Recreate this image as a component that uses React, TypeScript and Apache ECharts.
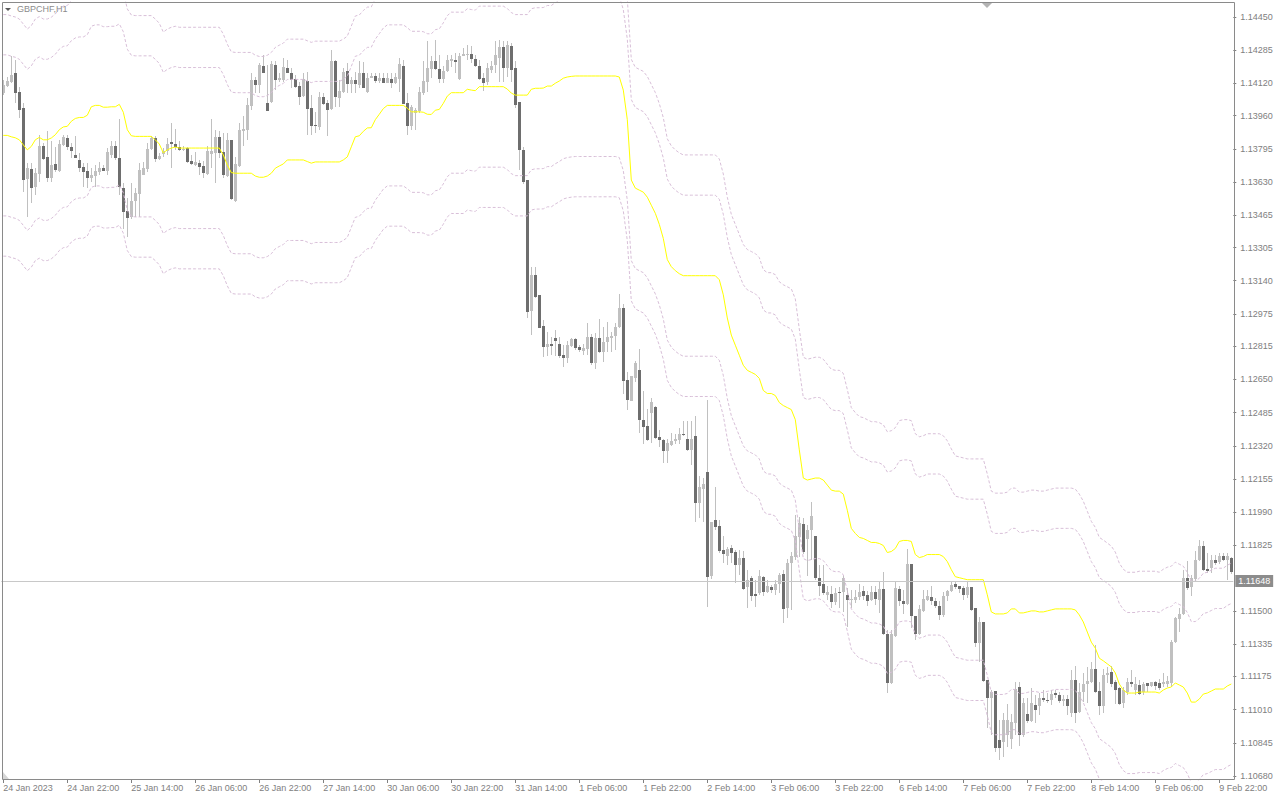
import React, { useEffect, useRef } from 'react';
import * as echarts from 'echarts';

const SYMBOL = 'GBPCHF,H1';
const X_LABELS = ['24 Jan 2023', '24 Jan 22:00', '25 Jan 14:00', '26 Jan 06:00', '26 Jan 22:00', '27 Jan 14:00', '30 Jan 06:00', '30 Jan 22:00', '31 Jan 14:00', '1 Feb 06:00', '1 Feb 22:00', '2 Feb 14:00', '3 Feb 06:00', '3 Feb 22:00', '6 Feb 14:00', '7 Feb 06:00', '7 Feb 22:00', '8 Feb 14:00', '9 Feb 06:00', '9 Feb 22:00'];
const LABEL_STEP = 16;
const Y_TICK_LABELS = ['1.10680', '1.10845', '1.11010', '1.11175', '1.11335', '1.11500', '1.11825', '1.11990', '1.12155', '1.12320', '1.12485', '1.12650', '1.12815', '1.12975', '1.13140', '1.13305', '1.13465', '1.13630', '1.13795', '1.13960', '1.14120', '1.14285', '1.14450'];
const Y_MIN = 1.106601;
const Y_MAX = 1.145245;
const BID = 1.11648;
const BAND_OFFSETS = [0.004, 0.006];

const OPEN = [
  1.14074, 1.14109, 1.14129, 1.14171, 1.14079, 1.13996, 1.13644, 1.13695, 1.13607, 1.13670,
  1.13810, 1.13755, 1.13652, 1.13720, 1.13687, 1.13815, 1.13850, 1.13802, 1.13765, 1.13740,
  1.13707, 1.13685, 1.13652, 1.13660, 1.13682, 1.13702, 1.13687, 1.13765, 1.13807, 1.13749,
  1.13602, 1.13485, 1.13457, 1.13535, 1.13569, 1.13665, 1.13694, 1.13794, 1.13850, 1.13744,
  1.13769, 1.13785, 1.13827, 1.13820, 1.13802, 1.13787, 1.13799, 1.13735, 1.13715, 1.13725,
  1.13710, 1.13670, 1.13770, 1.13774, 1.13854, 1.13777, 1.13660, 1.13840, 1.13535, 1.13710,
  1.13882, 1.13887, 1.14009, 1.14137, 1.14112, 1.14209, 1.14024, 1.14029, 1.14212, 1.14137,
  1.14137, 1.14196, 1.14174, 1.14141, 1.14107, 1.14057, 1.14134, 1.13996, 1.13914, 1.13902,
  1.14054, 1.14024, 1.13992, 1.14229, 1.14049, 1.14079, 1.14182, 1.14116, 1.14137, 1.14112,
  1.14174, 1.14079, 1.14149, 1.14157, 1.14134, 1.14146, 1.14124, 1.14142, 1.14121, 1.14142,
  1.14207, 1.14024, 1.13909, 1.13971, 1.13982, 1.14071, 1.14129, 1.14192, 1.14232, 1.14191,
  1.14142, 1.14182, 1.14229, 1.14237, 1.14141, 1.14257, 1.14262, 1.14267, 1.14242, 1.14207,
  1.14149, 1.14126, 1.14187, 1.14212, 1.14246, 1.14299, 1.14199, 1.14307, 1.14199, 1.14029,
  1.13790, 1.13640, 1.12992, 1.13170, 1.13067, 1.12917, 1.12809, 1.12825, 1.12854, 1.12825,
  1.12770, 1.12757, 1.12817, 1.12849, 1.12809, 1.12792, 1.12800, 1.12859, 1.12732, 1.12854,
  1.12787, 1.12834, 1.12854, 1.12865, 1.12909, 1.13004, 1.12645, 1.12542, 1.12657, 1.12695,
  1.12447, 1.12417, 1.12484, 1.12515, 1.12365, 1.12350, 1.12292, 1.12325, 1.12345, 1.12350,
  1.12380, 1.12355, 1.12300, 1.12367, 1.12037, 1.12105, 1.12190, 1.11672, 1.11954, 1.11922,
  1.11805, 1.11775, 1.11812, 1.11792, 1.11730, 1.11764, 1.11617, 1.11662, 1.11585, 1.11589,
  1.11670, 1.11592, 1.11617, 1.11605, 1.11634, 1.11685, 1.11512, 1.11739, 1.11767, 1.11867,
  1.11934, 1.11859, 1.11900, 1.11870, 1.11664, 1.11635, 1.11580, 1.11585, 1.11545, 1.11592,
  1.11592, 1.11580, 1.11552, 1.11552, 1.11567, 1.11597, 1.11580, 1.11555, 1.11594, 1.11552,
  1.11610, 1.11384, 1.11141, 1.11377, 1.11610, 1.11547, 1.11534, 1.11735, 1.11475, 1.11385,
  1.11502, 1.11555, 1.11569, 1.11549, 1.11525, 1.11480, 1.11572, 1.11600, 1.11635, 1.11622,
  1.11614, 1.11577, 1.11617, 1.11515, 1.11342, 1.11447, 1.11157, 1.11069, 1.11102, 1.10859,
  1.10850, 1.10884, 1.10864, 1.10945, 1.11122, 1.10884, 1.10987, 1.10952, 1.11032, 1.11029,
  1.11069, 1.11057, 1.11057, 1.11094, 1.11082, 1.11052, 1.11062, 1.10994, 1.11157, 1.10999,
  1.11099, 1.11137, 1.11149, 1.11212, 1.11102, 1.11029, 1.11182, 1.11199, 1.11146, 1.11116,
  1.11041, 1.11096, 1.11149, 1.11107, 1.11132, 1.11096, 1.11141, 1.11129, 1.11149, 1.11141,
  1.11136, 1.11136, 1.11141, 1.11347, 1.11459, 1.11485, 1.11664, 1.11617, 1.11660, 1.11752,
  1.11820, 1.11710, 1.11714, 1.11752, 1.11742, 1.11775, 1.11752, 1.11764,
];

const HIGH = [
  1.14137, 1.14154, 1.14254, 1.14237, 1.14104, 1.14021, 1.13724, 1.13724, 1.13699, 1.13865,
  1.13824, 1.13882, 1.13832, 1.13804, 1.13840, 1.13865, 1.13865, 1.13824, 1.13860, 1.13774,
  1.13724, 1.13724, 1.13699, 1.13715, 1.13732, 1.13715, 1.13799, 1.13832, 1.13832, 1.13942,
  1.13624, 1.13549, 1.13624, 1.13599, 1.13724, 1.13732, 1.13824, 1.13857, 1.13857, 1.13774,
  1.13799, 1.13849, 1.13924, 1.13894, 1.13832, 1.13807, 1.13804, 1.13765, 1.13777, 1.13740,
  1.13737, 1.13807, 1.13941, 1.13887, 1.13885, 1.13874, 1.13874, 1.13840, 1.13757, 1.13924,
  1.13957, 1.14049, 1.14171, 1.14154, 1.14221, 1.14262, 1.14212, 1.14229, 1.14229, 1.14171,
  1.14246, 1.14237, 1.14196, 1.14162, 1.14129, 1.14171, 1.14179, 1.14062, 1.13979, 1.14079,
  1.14071, 1.14037, 1.14287, 1.14237, 1.14137, 1.14196, 1.14221, 1.14154, 1.14179, 1.14229,
  1.14224, 1.14171, 1.14174, 1.14171, 1.14174, 1.14174, 1.14174, 1.14171, 1.14174, 1.14246,
  1.14237, 1.14071, 1.14012, 1.13996, 1.14104, 1.14229, 1.14329, 1.14254, 1.14337, 1.14262,
  1.14207, 1.14262, 1.14262, 1.14271, 1.14271, 1.14296, 1.14312, 1.14304, 1.14262, 1.14237,
  1.14171, 1.14221, 1.14229, 1.14329, 1.14337, 1.14329, 1.14329, 1.14321, 1.14232, 1.14029,
  1.13804, 1.13640, 1.13209, 1.13209, 1.13070, 1.12945, 1.12887, 1.12862, 1.12895, 1.12862,
  1.12820, 1.12840, 1.12854, 1.12854, 1.12820, 1.12825, 1.12929, 1.12875, 1.12879, 1.12949,
  1.12912, 1.12937, 1.12887, 1.12929, 1.13075, 1.13025, 1.12687, 1.12665, 1.12742, 1.12800,
  1.12590, 1.12505, 1.12557, 1.12517, 1.12400, 1.12354, 1.12354, 1.12384, 1.12380, 1.12409,
  1.12442, 1.12442, 1.12445, 1.12467, 1.12170, 1.12159, 1.12550, 1.11940, 1.12115, 1.11950,
  1.11870, 1.11817, 1.11825, 1.11805, 1.11805, 1.11797, 1.11705, 1.11672, 1.11655, 1.11705,
  1.11672, 1.11655, 1.11630, 1.11655, 1.11689, 1.11705, 1.11759, 1.11792, 1.11975, 1.11967,
  1.11959, 1.11925, 1.12042, 1.11870, 1.11730, 1.11730, 1.11622, 1.11622, 1.11614, 1.11619,
  1.11672, 1.11614, 1.11605, 1.11605, 1.11635, 1.11622, 1.11597, 1.11625, 1.11622, 1.11647,
  1.11692, 1.11405, 1.11405, 1.11647, 1.11622, 1.11605, 1.11809, 1.11735, 1.11475, 1.11530,
  1.11605, 1.11605, 1.11625, 1.11564, 1.11547, 1.11592, 1.11605, 1.11647, 1.11642, 1.11625,
  1.11622, 1.11647, 1.11617, 1.11515, 1.11469, 1.11447, 1.11157, 1.11107, 1.11102, 1.10959,
  1.10994, 1.11036, 1.10986, 1.11149, 1.11147, 1.11066, 1.11066, 1.11116, 1.11082, 1.11091,
  1.11107, 1.11091, 1.11107, 1.11107, 1.11099, 1.11082, 1.11082, 1.11207, 1.11227, 1.11144,
  1.11191, 1.11221, 1.11244, 1.11330, 1.11149, 1.11211, 1.11221, 1.11224, 1.11157, 1.11124,
  1.11124, 1.11166, 1.11204, 1.11171, 1.11157, 1.11149, 1.11144, 1.11149, 1.11154, 1.11161,
  1.11191, 1.11177, 1.11355, 1.11472, 1.11514, 1.11705, 1.11747, 1.11680, 1.11797, 1.11854,
  1.11847, 1.11789, 1.11780, 1.11780, 1.11789, 1.11789, 1.11789, 1.11769,
];

const LOW = [
  1.14062, 1.14104, 1.14121, 1.14021, 1.13946, 1.13582, 1.13457, 1.13524, 1.13565, 1.13632,
  1.13740, 1.13632, 1.13632, 1.13682, 1.13682, 1.13807, 1.13790, 1.13749, 1.13749, 1.13682,
  1.13607, 1.13602, 1.13632, 1.13607, 1.13665, 1.13685, 1.13665, 1.13749, 1.13740, 1.13565,
  1.13399, 1.13357, 1.13449, 1.13457, 1.13457, 1.13665, 1.13682, 1.13790, 1.13732, 1.13740,
  1.13757, 1.13765, 1.13699, 1.13790, 1.13782, 1.13782, 1.13727, 1.13715, 1.13710, 1.13665,
  1.13649, 1.13665, 1.13699, 1.13624, 1.13749, 1.13649, 1.13654, 1.13540, 1.13532, 1.13707,
  1.13807, 1.13840, 1.13987, 1.14071, 1.14071, 1.14171, 1.13982, 1.14024, 1.14087, 1.14129,
  1.14129, 1.14171, 1.14096, 1.14096, 1.14012, 1.14054, 1.13865, 1.13865, 1.13874, 1.13890,
  1.14012, 1.13857, 1.13987, 1.14004, 1.14004, 1.14071, 1.14071, 1.14071, 1.14071, 1.14096,
  1.14096, 1.14071, 1.14146, 1.14121, 1.14121, 1.14121, 1.14121, 1.14096, 1.14117, 1.14079,
  1.14017, 1.13865, 1.13890, 1.13890, 1.13971, 1.14062, 1.14079, 1.14146, 1.14187, 1.14121,
  1.14121, 1.14179, 1.14204, 1.14171, 1.14137, 1.14254, 1.14237, 1.14221, 1.14204, 1.14137,
  1.14084, 1.14112, 1.14171, 1.14171, 1.14129, 1.14129, 1.14154, 1.14129, 1.13996, 1.13690,
  1.13620, 1.12954, 1.12870, 1.13054, 1.12904, 1.12762, 1.12765, 1.12770, 1.12765, 1.12754,
  1.12712, 1.12732, 1.12812, 1.12795, 1.12787, 1.12770, 1.12770, 1.12720, 1.12704, 1.12782,
  1.12737, 1.12787, 1.12787, 1.12795, 1.12904, 1.12579, 1.12500, 1.12542, 1.12637, 1.12384,
  1.12329, 1.12342, 1.12334, 1.12354, 1.12312, 1.12234, 1.12237, 1.12317, 1.12329, 1.12330,
  1.12367, 1.12292, 1.12225, 1.11942, 1.11959, 1.11942, 1.11517, 1.11659, 1.11900, 1.11789,
  1.11739, 1.11730, 1.11739, 1.11639, 1.11680, 1.11605, 1.11514, 1.11547, 1.11519, 1.11580,
  1.11572, 1.11589, 1.11589, 1.11580, 1.11589, 1.11439, 1.11464, 1.11505, 1.11755, 1.11769,
  1.11785, 1.11672, 1.11755, 1.11655, 1.11572, 1.11580, 1.11552, 1.11514, 1.11530, 1.11514,
  1.11497, 1.11422, 1.11514, 1.11539, 1.11555, 1.11555, 1.11525, 1.11547, 1.11530, 1.11492,
  1.11380, 1.11091, 1.11137, 1.11372, 1.11522, 1.11485, 1.11530, 1.11417, 1.11355, 1.11380,
  1.11497, 1.11547, 1.11530, 1.11514, 1.11455, 1.11472, 1.11547, 1.11592, 1.11609, 1.11589,
  1.11552, 1.11564, 1.11502, 1.11322, 1.11248, 1.11149, 1.10917, 1.10884, 1.10800, 1.10759,
  1.10775, 1.10822, 1.10814, 1.10884, 1.10829, 1.10875, 1.10941, 1.10947, 1.10945, 1.10982,
  1.11049, 1.11041, 1.11032, 1.11066, 1.11041, 1.11027, 1.10982, 1.10974, 1.10945, 1.10994,
  1.11049, 1.11041, 1.11144, 1.11094, 1.10982, 1.10994, 1.11141, 1.11124, 1.11037, 1.11032,
  1.11016, 1.11082, 1.11124, 1.11082, 1.11082, 1.11082, 1.11099, 1.11124, 1.11107, 1.11107,
  1.11124, 1.11124, 1.11124, 1.11339, 1.11397, 1.11480, 1.11605, 1.11572, 1.11647, 1.11747,
  1.11697, 1.11689, 1.11689, 1.11730, 1.11735, 1.11747, 1.11652, 1.11685,
];

const CLOSE = [
  1.14112, 1.14132, 1.14162, 1.14071, 1.13987, 1.13640, 1.13699, 1.13602, 1.13677, 1.13810,
  1.13745, 1.13652, 1.13715, 1.13690, 1.13820, 1.13855, 1.13802, 1.13785, 1.13752, 1.13702,
  1.13682, 1.13652, 1.13665, 1.13685, 1.13702, 1.13687, 1.13777, 1.13807, 1.13749, 1.13607,
  1.13482, 1.13452, 1.13535, 1.13574, 1.13690, 1.13699, 1.13794, 1.13850, 1.13744, 1.13762,
  1.13785, 1.13820, 1.13820, 1.13804, 1.13787, 1.13795, 1.13732, 1.13720, 1.13730, 1.13707,
  1.13677, 1.13785, 1.13785, 1.13854, 1.13772, 1.13665, 1.13840, 1.13544, 1.13719, 1.13887,
  1.13894, 1.14012, 1.14137, 1.14112, 1.14212, 1.14174, 1.13982, 1.14217, 1.14137, 1.14149,
  1.14204, 1.14174, 1.14137, 1.14104, 1.14054, 1.14141, 1.13991, 1.13910, 1.13907, 1.14054,
  1.14017, 1.13987, 1.14229, 1.14054, 1.14082, 1.14179, 1.14116, 1.14137, 1.14116, 1.14174,
  1.14099, 1.14149, 1.14157, 1.14132, 1.14146, 1.14124, 1.14149, 1.14121, 1.14154, 1.14216,
  1.14017, 1.13909, 1.14004, 1.13987, 1.14079, 1.14134, 1.14199, 1.14232, 1.14192, 1.14142,
  1.14184, 1.14237, 1.14242, 1.14227, 1.14257, 1.14267, 1.14267, 1.14242, 1.14207, 1.14142,
  1.14124, 1.14196, 1.14207, 1.14262, 1.14299, 1.14199, 1.14312, 1.14187, 1.14012, 1.13787,
  1.13632, 1.12987, 1.13170, 1.13057, 1.12907, 1.12812, 1.12825, 1.12815, 1.12840, 1.12765,
  1.12754, 1.12820, 1.12849, 1.12807, 1.12795, 1.12804, 1.12859, 1.12732, 1.12854, 1.12787,
  1.12834, 1.12860, 1.12865, 1.12909, 1.13004, 1.12642, 1.12547, 1.12665, 1.12729, 1.12447,
  1.12412, 1.12350, 1.12539, 1.12357, 1.12350, 1.12292, 1.12332, 1.12345, 1.12355, 1.12380,
  1.12372, 1.12300, 1.12355, 1.12037, 1.12115, 1.12130, 1.11667, 1.11940, 1.11917, 1.11797,
  1.11785, 1.11809, 1.11789, 1.11730, 1.11764, 1.11609, 1.11655, 1.11575, 1.11572, 1.11672,
  1.11592, 1.11622, 1.11605, 1.11635, 1.11679, 1.11509, 1.11739, 1.11772, 1.11870, 1.11937,
  1.11792, 1.11900, 1.11970, 1.11662, 1.11625, 1.11589, 1.11592, 1.11545, 1.11589, 1.11589,
  1.11662, 1.11555, 1.11560, 1.11569, 1.11592, 1.11575, 1.11550, 1.11594, 1.11560, 1.11610,
  1.11384, 1.11144, 1.11384, 1.11614, 1.11547, 1.11534, 1.11735, 1.11475, 1.11385, 1.11509,
  1.11559, 1.11572, 1.11547, 1.11522, 1.11480, 1.11575, 1.11600, 1.11630, 1.11617, 1.11610,
  1.11577, 1.11617, 1.11505, 1.11342, 1.11444, 1.11154, 1.11069, 1.11099, 1.10820, 1.10820,
  1.10959, 1.10959, 1.10950, 1.11112, 1.10884, 1.11044, 1.10952, 1.11044, 1.11007, 1.11069,
  1.11057, 1.11052, 1.11087, 1.11082, 1.11052, 1.11062, 1.11029, 1.11157, 1.10994, 1.11099,
  1.11137, 1.11152, 1.11212, 1.11099, 1.11029, 1.11182, 1.11194, 1.11137, 1.11107, 1.11037,
  1.11107, 1.11149, 1.11137, 1.11136, 1.11087, 1.11137, 1.11129, 1.11149, 1.11129, 1.11119,
  1.11149, 1.11152, 1.11347, 1.11467, 1.11485, 1.11664, 1.11614, 1.11664, 1.11755, 1.11820,
  1.11705, 1.11700, 1.11752, 1.11739, 1.11775, 1.11755, 1.11775, 1.11692,
];

// yellow middle line of the envelope
const MID = [
  1.13862, 1.13862, 1.13855, 1.13850, 1.13840, 1.13815, 1.13790, 1.13807, 1.13840, 1.13852,
  1.13840, 1.13840, 1.13849, 1.13865, 1.13890, 1.13904, 1.13907, 1.13932, 1.13946, 1.13951,
  1.13951, 1.13962, 1.14004, 1.14011, 1.14011, 1.14002, 1.14002, 1.14004, 1.14004, 1.14016,
  1.13977, 1.13890, 1.13860, 1.13857, 1.13857, 1.13857, 1.13857, 1.13857, 1.13840, 1.13819,
  1.13775, 1.13790, 1.13799, 1.13804, 1.13799, 1.13799, 1.13799, 1.13799, 1.13799, 1.13799,
  1.13799, 1.13799, 1.13799, 1.13799, 1.13799, 1.13765, 1.13715, 1.13677, 1.13674, 1.13674,
  1.13674, 1.13674, 1.13674, 1.13660, 1.13654, 1.13654, 1.13660, 1.13674, 1.13699, 1.13710,
  1.13720, 1.13740, 1.13740, 1.13740, 1.13740, 1.13740, 1.13732, 1.13724, 1.13730, 1.13730,
  1.13730, 1.13730, 1.13730, 1.13730, 1.13730, 1.13740, 1.13755, 1.13805, 1.13855, 1.13860,
  1.13882, 1.13899, 1.13900, 1.13940, 1.13967, 1.13995, 1.14011, 1.14011, 1.14011, 1.14011,
  1.14011, 1.13997, 1.13979, 1.13979, 1.13979, 1.13977, 1.13967, 1.13966, 1.13987, 1.13991,
  1.14021, 1.14057, 1.14074, 1.14074, 1.14074, 1.14074, 1.14091, 1.14087, 1.14084, 1.14104,
  1.14104, 1.14104, 1.14104, 1.14104, 1.14104, 1.14104, 1.14092, 1.14072, 1.14062, 1.14062,
  1.14062, 1.14062, 1.14091, 1.14096, 1.14096, 1.14097, 1.14107, 1.14107, 1.14121, 1.14132,
  1.14146, 1.14152, 1.14155, 1.14157, 1.14157, 1.14157, 1.14157, 1.14157, 1.14157, 1.14157,
  1.14157, 1.14157, 1.14157, 1.14157, 1.14152, 1.14087, 1.13940, 1.13640, 1.13600, 1.13590,
  1.13580, 1.13555, 1.13515, 1.13475, 1.13420, 1.13350, 1.13245, 1.13210, 1.13190, 1.13175,
  1.13165, 1.13165, 1.13165, 1.13165, 1.13165, 1.13165, 1.13165, 1.13165, 1.13165, 1.13145,
  1.13070, 1.12955, 1.12870, 1.12820, 1.12770, 1.12720, 1.12695, 1.12685, 1.12675, 1.12655,
  1.12595, 1.12580, 1.12580, 1.12570, 1.12535, 1.12520, 1.12510, 1.12500, 1.12450, 1.12300,
  1.12160, 1.12150, 1.12155, 1.12160, 1.12160, 1.12150, 1.12125, 1.12100, 1.12095, 1.12095,
  1.12080, 1.12000, 1.11910, 1.11885, 1.11865, 1.11860, 1.11850, 1.11840, 1.11840, 1.11835,
  1.11825, 1.11790, 1.11795, 1.11810, 1.11845, 1.11850, 1.11850, 1.11845, 1.11780, 1.11765,
  1.11770, 1.11780, 1.11780, 1.11780, 1.11780, 1.11770, 1.11745, 1.11705, 1.11670, 1.11665,
  1.11660, 1.11655, 1.11655, 1.11655, 1.11655, 1.11655, 1.11580, 1.11495, 1.11485, 1.11485,
  1.11485, 1.11490, 1.11510, 1.11510, 1.11490, 1.11490, 1.11495, 1.11500, 1.11500, 1.11495,
  1.11495, 1.11500, 1.11505, 1.11510, 1.11510, 1.11510, 1.11510, 1.11510, 1.11505, 1.11480,
  1.11445, 1.11395, 1.11345, 1.11315, 1.11265, 1.11252, 1.11237, 1.11222, 1.11192, 1.11137,
  1.11107, 1.11092, 1.11092, 1.11092, 1.11097, 1.11097, 1.11097, 1.11097, 1.11097, 1.11092,
  1.11107, 1.11117, 1.11122, 1.11142, 1.11132, 1.11122, 1.11092, 1.11047, 1.11047, 1.11062,
  1.11087, 1.11092, 1.11102, 1.11112, 1.11112, 1.11112, 1.11127, 1.11137,
];

const FONT = "'Liberation Sans', Arial, sans-serif";
const TEXT = '#808080';
const BULL = '#c0c0c0';
const BEAR = '#6e6e6e';
const WICK = '#c0c0c0';
const BAND = '#d8bfd8';

export default function App() {
  const ref = useRef<HTMLDivElement>(null);

  useEffect(() => {
    document.body.style.margin = '0';
    const el = ref.current;
    if (!el) return;
    const chart = echarts.init(el, null, { renderer: 'svg' });

    const cats = OPEN.map((_, i) => String(i));
    const candles = OPEN.map((o, i) => [i, o, HIGH[i], LOW[i], CLOSE[i]]);
    const yVals = Y_TICK_LABELS.map(Number);
    const band = (k: number) => MID.map((v) => +(v + k).toFixed(5));
    const dashed = (name: string, data: number[]) => ({
      type: 'line',
      name,
      data,
      symbol: 'none',
      showSymbol: false,
      silent: true,
      z: 3,
      lineStyle: { color: BAND, width: 1, type: [3, 2] },
      emphasis: { disabled: true },
    });

    chart.setOption({
      animation: false,
      backgroundColor: '#ffffff',
      title: {
        text: SYMBOL,
        left: 17,
        top: 4,
        padding: 0,
        textStyle: { fontSize: 9, fontWeight: 'normal', color: '#8c8c8c', fontFamily: FONT },
      },
      grid: { left: 1.3, top: 2, width: 1232, height: 778, show: false, containLabel: false, outerBoundsMode: 'none' },
      xAxis: {
        type: 'category',
        data: cats,
        boundaryGap: true,
        axisLine: { show: false },
        axisTick: {
          show: true,
          alignWithLabel: true,
          interval: LABEL_STEP - 1,
          length: 3,
          lineStyle: { color: TEXT },
        },
        axisLabel: {
          interval: LABEL_STEP - 1,
          align: 'left',
          margin: 3,
          color: TEXT,
          fontSize: 9,
          fontFamily: FONT,
          formatter: (v: string) => X_LABELS[Number(v) / LABEL_STEP] ?? '',
        },
        splitLine: { show: false },
      },
      yAxis: {
        type: 'value',
        position: 'right',
        min: Y_MIN,
        max: Y_MAX,
        axisLine: { show: false },
        axisTick: { show: true, length: 3, customValues: yVals, lineStyle: { color: TEXT } },
        axisLabel: {
          customValues: yVals,
          margin: 7,
          color: TEXT,
          fontSize: 9,
          fontFamily: FONT,
          formatter: (v: number) => v.toFixed(5),
        },
        splitLine: { show: false },
      },
      series: [
        {
          type: 'custom',
          name: SYMBOL,
          z: 2,
          silent: true,
          data: candles,
          encode: { x: 0, y: [1, 2, 3, 4] },
          renderItem: (params: any, api: any) => {
            const i = api.value(0);
            const o = api.value(1);
            const h = api.value(2);
            const l = api.value(3);
            const c = api.value(4);
            const po = api.coord([i, o]);
            const pc = api.coord([i, c]);
            const ph = api.coord([i, h]);
            const pl = api.coord([i, l]);
            const xc = Math.round(po[0]);
            const top = Math.round(Math.min(po[1], pc[1]));
            const bot = Math.round(Math.max(po[1], pc[1]));
            const yh = Math.round(ph[1]);
            const yl = Math.round(pl[1]);
            return {
              type: 'group',
              children: [
                { type: 'rect', shape: { x: xc, y: yh, width: 1, height: Math.max(1, yl - yh) }, style: { fill: WICK } },
                { type: 'rect', shape: { x: xc - 1, y: top, width: 3, height: Math.max(1, bot - top) }, style: { fill: c >= o ? BULL : BEAR } },
              ],
            };
          },
        },
        dashed('Upper 2', band(BAND_OFFSETS[1])),
        dashed('Upper 1', band(BAND_OFFSETS[0])),
        dashed('Lower 1', band(-BAND_OFFSETS[0])),
        dashed('Lower 2', band(-BAND_OFFSETS[1])),
        {
          type: 'line',
          name: 'Middle',
          data: MID,
          symbol: 'none',
          showSymbol: false,
          silent: true,
          z: 4,
          lineStyle: { color: '#ffff00', width: 1 },
          emphasis: { disabled: true },
          markLine: {
            silent: true,
            precision: 5,
            symbol: ['none', 'none'],
            lineStyle: { color: '#c8c8c8', width: 1, type: 'solid' },
            label: {
              show: true,
              position: 'end',
              distance: 2,
              formatter: BID.toFixed(5),
              color: '#ffffff',
              backgroundColor: '#8c8c8c',
              padding: [2, 3, 1, 3],
              fontSize: 9,
              fontFamily: FONT,
            },
            emphasis: { disabled: true },
            data: [{ yAxis: BID }],
          },
        },
      ],
      graphic: [
        {
          type: 'rect',
          z: 100,
          silent: true,
          shape: { x: 2.5, y: 2.5, width: 1232, height: 777 },
          style: { fill: 'none', stroke: '#8a8a8a', lineWidth: 1 },
        },
        { type: 'polygon', z: 100, silent: true, shape: { points: [[5, 8], [11, 8], [8, 11]] }, style: { fill: '#5a5a5a' } },
        { type: 'polygon', z: 100, silent: true, shape: { points: [[982, 3], [992, 3], [987, 8]] }, style: { fill: '#b4b4b4' } },
        { type: 'polygon', z: 100, silent: true, shape: { points: [[3, 772], [3, 779], [9, 779]] }, style: { fill: '#d6d6d6' } },
      ],
    });

    return () => chart.dispose();
  }, []);

  return <div ref={ref} style={{ width: 1280, height: 800, background: '#ffffff' }} />;
}
